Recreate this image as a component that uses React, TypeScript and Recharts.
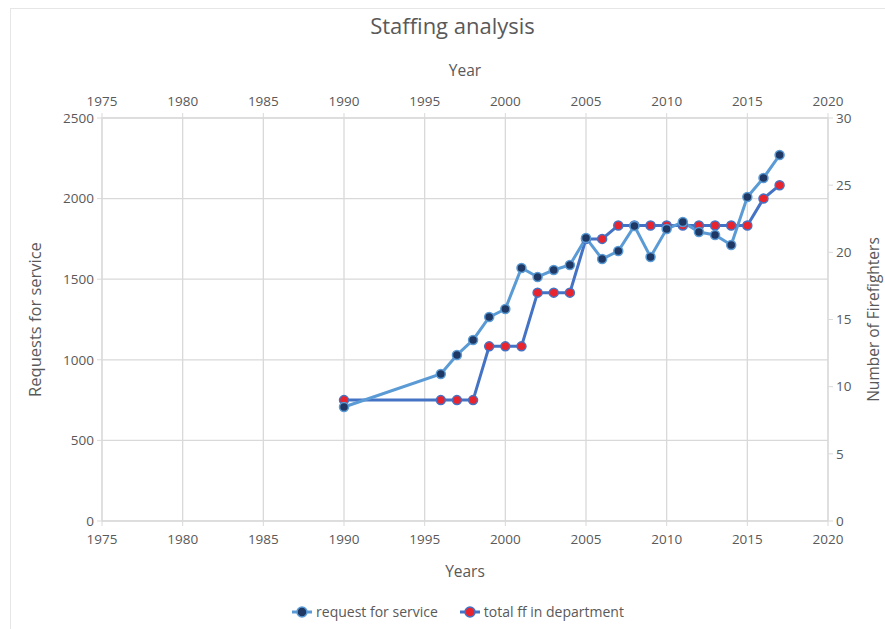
import {
  CartesianGrid,
  ComposedChart,
  Legend,
  Line,
  XAxis,
  YAxis,
} from 'recharts'

const years = [
  1990, 1996, 1997, 1998, 1999, 2000, 2001, 2002, 2003, 2004, 2005, 2006,
  2007, 2008, 2009, 2010, 2011, 2012, 2013, 2014, 2015, 2016, 2017,
]
const requests = [
  707, 912, 1030, 1123, 1265, 1315, 1570, 1514, 1557, 1588, 1756, 1625,
  1675, 1830, 1638, 1811, 1855, 1793, 1774, 1712, 2010, 2128, 2270,
]
const firefighters = [
  9, 9, 9, 9, 13, 13, 13, 17, 17, 17, 21, 21, 22, 22, 22, 22, 22, 22, 22, 22,
  22, 24, 25,
]
const yearTicks = [1975, 1980, 1985, 1990, 1995, 2000, 2005, 2010, 2015, 2020]
const leftTicks = [0, 500, 1000, 1500, 2000, 2500]
const rightTicks = [0, 5, 10, 15, 20, 25, 30]

const data = years.map((year, i) => ({
  year,
  requests: requests[i],
  ff: firefighters[i],
}))

const font = '"Open Sans", "Noto Sans", sans-serif'
const textColor = '#595959'
const gridColor = '#d9d9d9'
const tick = { fill: textColor, fontSize: 13.5, fontFamily: font }

const legendItems = [
  { name: 'request for service', fill: '#1f3864', stroke: '#5b9bd5' },
  { name: 'total ff in department', fill: '#e8242e', stroke: '#4472c4' },
]

function LegendContent() {
  return (
    <div
      style={{
        display: 'flex',
        justifyContent: 'center',
        gap: 22,
        paddingTop: 17,
        paddingLeft: 16,
        fontFamily: font,
        fontSize: 14,
        color: textColor,
      }}
    >
      {legendItems.map((it) => (
        <div key={it.name} style={{ display: 'flex', alignItems: 'center', gap: 4 }}>
          <svg width={20} height={12}>
            <line x1={0} y1={6} x2={20} y2={6} stroke={it.stroke} strokeWidth={3} />
            <circle cx={10} cy={6} r={5} fill={it.fill} stroke={it.stroke} strokeWidth={1.5} />
          </svg>
          <span>{it.name}</span>
        </div>
      ))}
    </div>
  )
}

export default function App() {
  return (
    <div style={{ position: 'absolute', left: 0, top: 0, width: 885, height: 629, background: '#fff' }}>
      <div
        style={{
          position: 'absolute',
          left: 10,
          top: 8,
          width: 890,
          height: 620,
          borderLeft: '1px solid #e6e6e6',
          borderTop: '1px solid #e6e6e6',
        }}
      />
      <div
        style={{
          position: 'absolute',
          left: 0,
          top: 10,
          width: 905,
          textAlign: 'center',
          fontFamily: font,
          fontSize: 22,
          color: textColor,
        }}
      >
        Staffing analysis
      </div>
      <ComposedChart
        width={885}
        height={629}
        data={data}
        margin={{ top: 88, right: 17, left: 32, bottom: 0 }}
        style={{ position: 'absolute', left: 0, top: 0 }}
      >
        <CartesianGrid stroke={gridColor} strokeWidth={1.3} xAxisId="bottom" yAxisId="left" />
        <XAxis
          xAxisId="bottom"
          dataKey="year"
          type="number"
          domain={[1975, 2020]}
          ticks={yearTicks}
          tick={tick}
          stroke={gridColor}
          tickSize={5}
          tickMargin={8}
          height={64}
          label={{ value: 'Years', position: 'insideTop', offset: 45, fill: textColor, fontSize: 15.5, fontFamily: font }}
        />
        <XAxis
          xAxisId="top"
          orientation="top"
          dataKey="year"
          type="number"
          domain={[1975, 2020]}
          ticks={yearTicks}
          tick={tick}
          stroke={gridColor}
          tickSize={5}
          tickMargin={7}
          height={30}
          label={{ value: 'Year', position: 'insideTop', offset: -23, fill: textColor, fontSize: 15.5, fontFamily: font }}
        />
        <YAxis
          yAxisId="left"
          domain={[0, 2500]}
          ticks={leftTicks}
          tick={tick}
          stroke={gridColor}
          tickSize={5}
          tickMargin={3}
          width={70}
          label={{
            value: 'Requests for service',
            angle: -90,
            position: 'insideLeft',
            offset: 3,
            fill: textColor,
            fontSize: 16.5,
            fontFamily: font,
            style: { textAnchor: 'middle' },
          }}
        />
        <YAxis
          yAxisId="right"
          orientation="right"
          domain={[0, 30]}
          ticks={rightTicks}
          tick={tick}
          stroke={gridColor}
          tickSize={5}
          tickMargin={3}
          width={40}
          label={{
            value: 'Number of Firefighters',
            angle: -90,
            position: 'insideRight',
            offset: -5,
            fill: textColor,
            fontSize: 15.5,
            fontFamily: font,
            style: { textAnchor: 'middle' },
          }}
        />
        <Legend verticalAlign="bottom" height={44} content={<LegendContent />} />
        <Line
          xAxisId="bottom"
          yAxisId="right"
          dataKey="ff"
          name="total ff in department"
          stroke="#4472c4"
          strokeWidth={3}
          dot={{ r: 4.5, fill: '#e8242e', stroke: '#4472c4', strokeWidth: 1.5 }}
          isAnimationActive={false}
        />
        <Line
          xAxisId="bottom"
          yAxisId="left"
          dataKey="requests"
          name="request for service"
          stroke="#5b9bd5"
          strokeWidth={3}
          dot={{ r: 4.5, fill: '#1f3864', stroke: '#5b9bd5', strokeWidth: 1.5 }}
          isAnimationActive={false}
        />
      </ComposedChart>
    </div>
  )
}
